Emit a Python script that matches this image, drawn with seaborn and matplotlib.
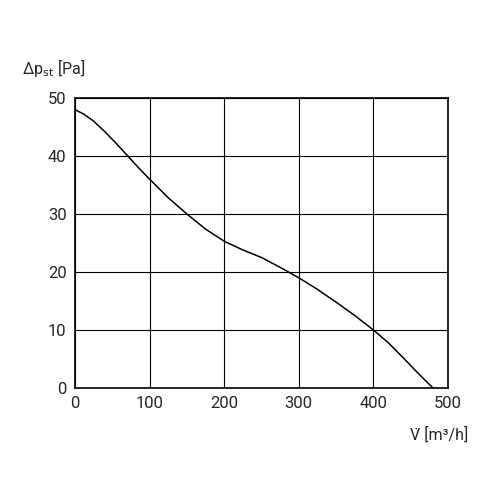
import matplotlib
matplotlib.use("Agg")
import matplotlib.pyplot as plt
import seaborn as sns
import pandas as pd

flow = [0, 12, 25, 40, 55, 70, 85, 100, 125, 150, 175, 200, 225, 250, 275, 300, 325, 350, 375, 400, 420, 440, 455, 468, 480]
pressure = [48, 47.2, 46, 44.2, 42.2, 40.1, 38, 36, 32.8, 30, 27.4, 25.3, 23.8, 22.5, 20.8, 19, 17, 14.8, 12.5, 10, 7.8, 5.2, 3.2, 1.5, 0]
xticks = [0, 100, 200, 300, 400, 500]
yticks = [0, 10, 20, 30, 40, 50]

sns.set_style("white")
plt.rcParams['font.family'] = ['Roboto', 'DejaVu Sans']

fig = plt.figure(figsize=(5, 5), dpi=100)
ax = fig.add_axes([0.15, 0.224, 0.746, 0.58])
df = pd.DataFrame({"flow": flow, "pressure": pressure})
sns.lineplot(data=df, x="flow", y="pressure", ax=ax, color="black", lw=1.1)
ax.set_xlim(0, 500)
ax.set_ylim(0, 50)
ax.set_xticks(xticks)
ax.set_yticks(yticks)
ax.grid(True, color="black", lw=0.8)
for s in ax.spines.values():
    s.set_color("black"); s.set_linewidth(1.2)
ax.tick_params(axis="both", labelsize=12, length=0, pad=6)
ax.set_xlabel(""); ax.set_ylabel("")
fig.text(0.045, 0.852, r"Δp$_{\mathrm{st}}$ [Pa]", fontsize=11.5)
fig.text(0.82, 0.12, "V̇ [m³/h]", fontsize=11.5)
fig.savefig("out.png", dpi=100)
